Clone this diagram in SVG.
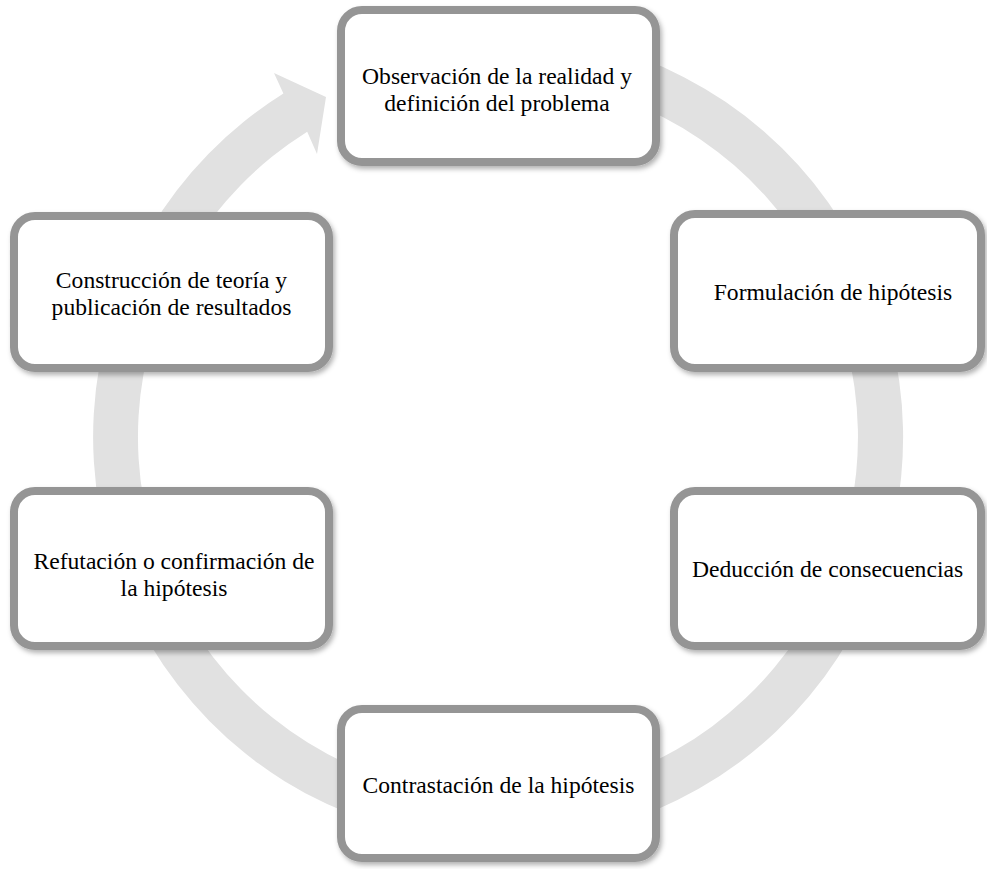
<svg xmlns="http://www.w3.org/2000/svg" width="987" height="869" viewBox="0 0 987 869">
<defs>
<style>
.box{fill:#ffffff;stroke:#959595;stroke-width:8;filter:url(#sh)}
.lbl{font-family:"Liberation Serif","Times New Roman",serif;font-size:23.6px;fill:#000;text-anchor:middle}
.ring{fill:#e1e1e1}
</style>
<filter id="sh" x="-10%" y="-10%" width="120%" height="130%">
<feDropShadow dx="2" dy="3" stdDeviation="2.5" flood-color="#000" flood-opacity="0.3"/>
</filter>
</defs>
<rect width="987" height="869" fill="#ffffff"/>
<g id="connectors">
<path class="ring" d="M498,32 A405,405 0 1 1 283.4,93.6 L274,73 L326,97 L317,154 L307.2,131.7 A360,360 0 1 0 498,77 Z"/>
</g>
<g id="node1">
<rect class="box" x="341" y="10" width="315" height="152" rx="21"/>
<text class="lbl" x="497" y="84">Observación de la realidad y</text>
<text class="lbl" x="497" y="110.5">definición del problema</text>
</g>
<g id="node2">
<rect class="box" x="674" y="214" width="307" height="154" rx="21"/>
<text class="lbl" x="833" y="300">Formulación de hipótesis</text>
</g>
<g id="node3">
<rect class="box" x="674" y="491" width="307" height="155" rx="21"/>
<text class="lbl" x="827.5" y="577">Deducción de consecuencias</text>
</g>
<g id="node4">
<rect class="box" x="341" y="709" width="315" height="149" rx="21"/>
<text class="lbl" x="498.5" y="793">Contrastación de la hipótesis</text>
</g>
<g id="node5">
<rect class="box" x="14" y="491" width="315" height="155" rx="21"/>
<text class="lbl" x="174" y="569">Refutación o confirmación de</text>
<text class="lbl" x="174" y="595.5">la hipótesis</text>
</g>
<g id="node6">
<rect class="box" x="14" y="216" width="315" height="152" rx="21"/>
<text class="lbl" x="171.5" y="288">Construcción de teoría y</text>
<text class="lbl" x="171.5" y="314.5">publicación de resultados</text>
</g>
</svg>
